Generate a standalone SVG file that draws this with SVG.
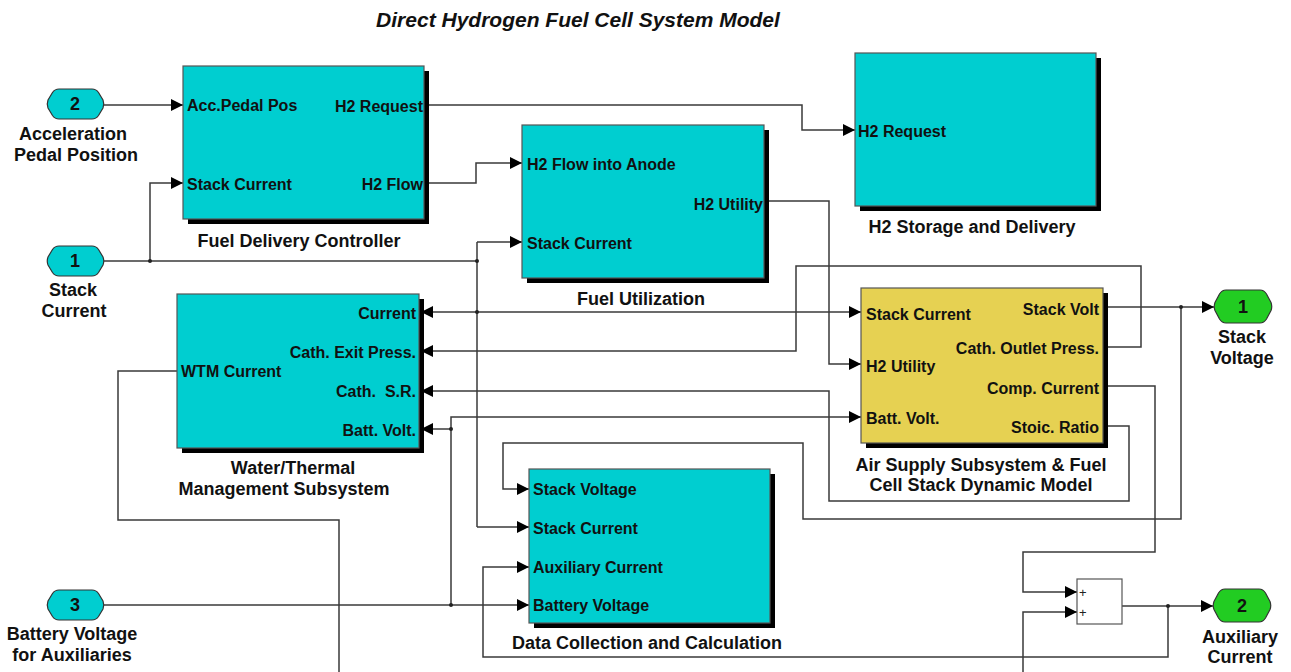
<svg xmlns="http://www.w3.org/2000/svg" width="1291" height="672" viewBox="0 0 1291 672">
<defs>
<marker id="arr" markerUnits="userSpaceOnUse" markerWidth="13" markerHeight="13" refX="12" refY="6" orient="auto">
<path d="M0,0 L12,6 L0,12 z" fill="#000"/>
</marker>
<path id="inShape" d="M12,0 H45 Q49,0 51.5,3.5 L56,11 Q57.5,15 56,19 L51.5,26.5 Q49,30 45,30 H12 Q8,30 5.5,26.5 L1,19 Q-0.5,15 1,11 L5.5,3.5 Q8,0 12,0 Z"/>
<path id="outShape" d="M12,0 H46 Q50,0 52.5,4 L57,12.5 Q58.5,16.5 57,20.5 L52.5,29 Q50,33 46,33 H12 Q8,33 5.5,29 L1,20.5 Q-0.5,16.5 1,12.5 L5.5,4 Q8,0 12,0 Z"/>
<style>
text{font-family:"Liberation Sans",Arial,sans-serif;font-weight:bold;fill:#111}
.port{font-size:16px}
.lbl{font-size:18px;text-anchor:middle}
.end{text-anchor:end}
.num{font-size:18px;text-anchor:middle}
.title{font-size:21px;font-style:italic;text-anchor:middle}
.blk{fill:#00CED0;stroke:#555;stroke-width:1.2}
.yel{fill:#E6D152;stroke:#555;stroke-width:1.2}
.shd{fill:#000}
.io{fill:#00CED0;stroke:#333;stroke-width:1.2}
.out{fill:#22CC22;stroke:#333;stroke-width:1.2}
.w{fill:none;stroke:#3a3a3a;stroke-width:1.5}
.a{marker-end:url(#arr)}
.dot{fill:#222}
.plus{font-size:13px;font-weight:normal;fill:#222}
</style>
</defs>
<rect width="1291" height="672" fill="#fff"/>
<text class="title" x="578" y="27">Direct Hydrogen Fuel Cell System Model</text>

<g id="connectors">
<polyline class="w a" points="104,105 183,105"/>
<polyline class="w" points="104,261 477,261"/>
<polyline class="w a" points="150,261 150,183 183,183"/>
<polyline class="w" points="477,242 477,527"/>
<polyline class="w a" points="477,242 522,242"/>
<polyline class="w a" points="477,312 421,312"/>
<polyline class="w a" points="477,312 861,312"/>
<polyline class="w a" points="477,527 529,527"/>
<polyline class="w a" points="424,183 476,183 476,163 522,163"/>
<polyline class="w a" points="424,105 802,105 802,130 855,130"/>
<polyline class="w a" points="764,201 829,201 829,364 861,364"/>
<polyline class="w a" points="1103,307 1214,307"/>
<polyline class="w a" points="1181,307 1181,519 803,519 803,443 503,443 503,489 529,489"/>
<polyline class="w a" points="1103,347 1141,347 1141,266 796,266 796,351 421,351"/>
<polyline class="w a" points="1103,426 1129,426 1129,501 829,501 829,391 421,391"/>
<polyline class="w a" points="1103,386 1155,386 1155,552 1023,552 1023,592 1077,592"/>
<polyline class="w a" points="1023,672 1023,612 1077,612"/>
<polyline class="w a" points="1122,606 1213,606"/>
<polyline class="w a" points="1168,606 1168,657 483,657 483,567 529,567"/>
<polyline class="w" points="177,371 118,371 118,520 339,520 339,672"/>
<polyline class="w a" points="104,605 529,605"/>
<polyline class="w a" points="451,605 451,417 861,417"/>
<polyline class="w a" points="451,429 421,429"/>
<circle class="dot" cx="150" cy="261" r="2"/>
<circle class="dot" cx="477" cy="261" r="2"/>
<circle class="dot" cx="477" cy="312" r="2"/>
<circle class="dot" cx="451" cy="429" r="2"/>
<circle class="dot" cx="451" cy="605" r="2"/>
<circle class="dot" cx="1181" cy="307" r="2"/>
<circle class="dot" cx="1168" cy="606" r="2"/>
</g>

<g id="in2">
<use href="#inShape" class="io" x="47" y="89"/>
<text class="num" x="75" y="110">2</text>
<text class="lbl" x="73" y="140">Acceleration</text>
<text class="lbl" x="76" y="161">Pedal Position</text>
</g>
<g id="in1">
<use href="#inShape" class="io" x="47" y="246"/>
<text class="num" x="75" y="267">1</text>
<text class="lbl" x="73" y="295.5">Stack</text>
<text class="lbl" x="74" y="317">Current</text>
</g>
<g id="in3">
<use href="#inShape" class="io" x="47" y="590"/>
<text class="num" x="75" y="611">3</text>
<text class="lbl" x="72" y="639.5">Battery Voltage</text>
<text class="lbl" x="72" y="660.5">for Auxiliaries</text>
</g>

<g id="fdc">
<rect class="shd" x="188" y="71" width="241" height="153"/>
<rect class="blk" x="183" y="66" width="241" height="153"/>
<text class="port" x="187" y="111">Acc.Pedal Pos</text>
<text class="port" x="187" y="190">Stack Current</text>
<text class="port end" x="423" y="112">H2 Request</text>
<text class="port end" x="423" y="190">H2 Flow</text>
<text class="lbl" x="299" y="246.5">Fuel Delivery Controller</text>
</g>

<g id="fu">
<rect class="shd" x="527" y="130" width="242" height="153"/>
<rect class="blk" x="522" y="125" width="242" height="153"/>
<text class="port" x="527" y="170">H2 Flow into Anode</text>
<text class="port" x="527" y="249">Stack Current</text>
<text class="port end" x="763" y="210">H2 Utility</text>
<text class="lbl" x="641" y="304.5">Fuel Utilization</text>
</g>

<g id="h2s">
<rect class="shd" x="860" y="58" width="241" height="153"/>
<rect class="blk" x="855" y="53" width="241" height="153"/>
<text class="port" x="858" y="137">H2 Request</text>
<text class="lbl" x="972" y="232.5">H2 Storage and Delivery</text>
</g>

<g id="wtm">
<rect class="shd" x="182" y="299" width="242" height="154"/>
<rect class="blk" x="177" y="294" width="242" height="154"/>
<text class="port end" x="416" y="319">Current</text>
<text class="port end" x="416" y="358">Cath. Exit Press.</text>
<text class="port end" x="416" y="397">Cath.&#160; S.R.</text>
<text class="port end" x="416" y="436">Batt. Volt.</text>
<text class="port" x="181" y="377">WTM Current</text>
<text class="lbl" x="293" y="473.5">Water/Thermal</text>
<text class="lbl" x="284" y="494.5">Management Subsystem</text>
</g>

<g id="air">
<rect class="shd" x="866" y="293" width="242" height="155"/>
<rect class="yel" x="861" y="288" width="242" height="155"/>
<text class="port" x="866" y="320">Stack Current</text>
<text class="port" x="866" y="372">H2 Utility</text>
<text class="port" x="866" y="424">Batt. Volt.</text>
<text class="port end" x="1099" y="315">Stack Volt</text>
<text class="port end" x="1099" y="354">Cath. Outlet Press.</text>
<text class="port end" x="1099" y="394">Comp. Current</text>
<text class="port end" x="1099" y="433">Stoic. Ratio</text>
<text class="lbl" x="981" y="470.5">Air Supply Subsystem &amp; Fuel</text>
<text class="lbl" x="981" y="490.5">Cell Stack Dynamic Model</text>
</g>

<g id="dcc">
<rect class="shd" x="534" y="474" width="241" height="154"/>
<rect class="blk" x="529" y="469" width="241" height="154"/>
<text class="port" x="533" y="495">Stack Voltage</text>
<text class="port" x="533" y="534">Stack Current</text>
<text class="port" x="533" y="573">Auxiliary Current</text>
<text class="port" x="533" y="611">Battery Voltage</text>
<text class="lbl" x="647" y="648.5">Data Collection and Calculation</text>
</g>

<g id="sum">
<rect x="1077" y="579" width="45" height="45" fill="#fff" stroke="#555" stroke-width="1.2"/>
<text class="plus" x="1079" y="597">+</text>
<text class="plus" x="1079" y="617">+</text>
</g>

<g id="out1">
<use href="#outShape" class="out" x="1214" y="290"/>
<text class="num" x="1243" y="312.5">1</text>
<text class="lbl" x="1242" y="343">Stack</text>
<text class="lbl" x="1242" y="364">Voltage</text>
</g>
<g id="out2">
<use href="#outShape" class="out" x="1213" y="589"/>
<text class="num" x="1242" y="612">2</text>
<text class="lbl" x="1240" y="642.5">Auxiliary</text>
<text class="lbl" x="1240" y="662.5">Current</text>
</g>
</svg>
